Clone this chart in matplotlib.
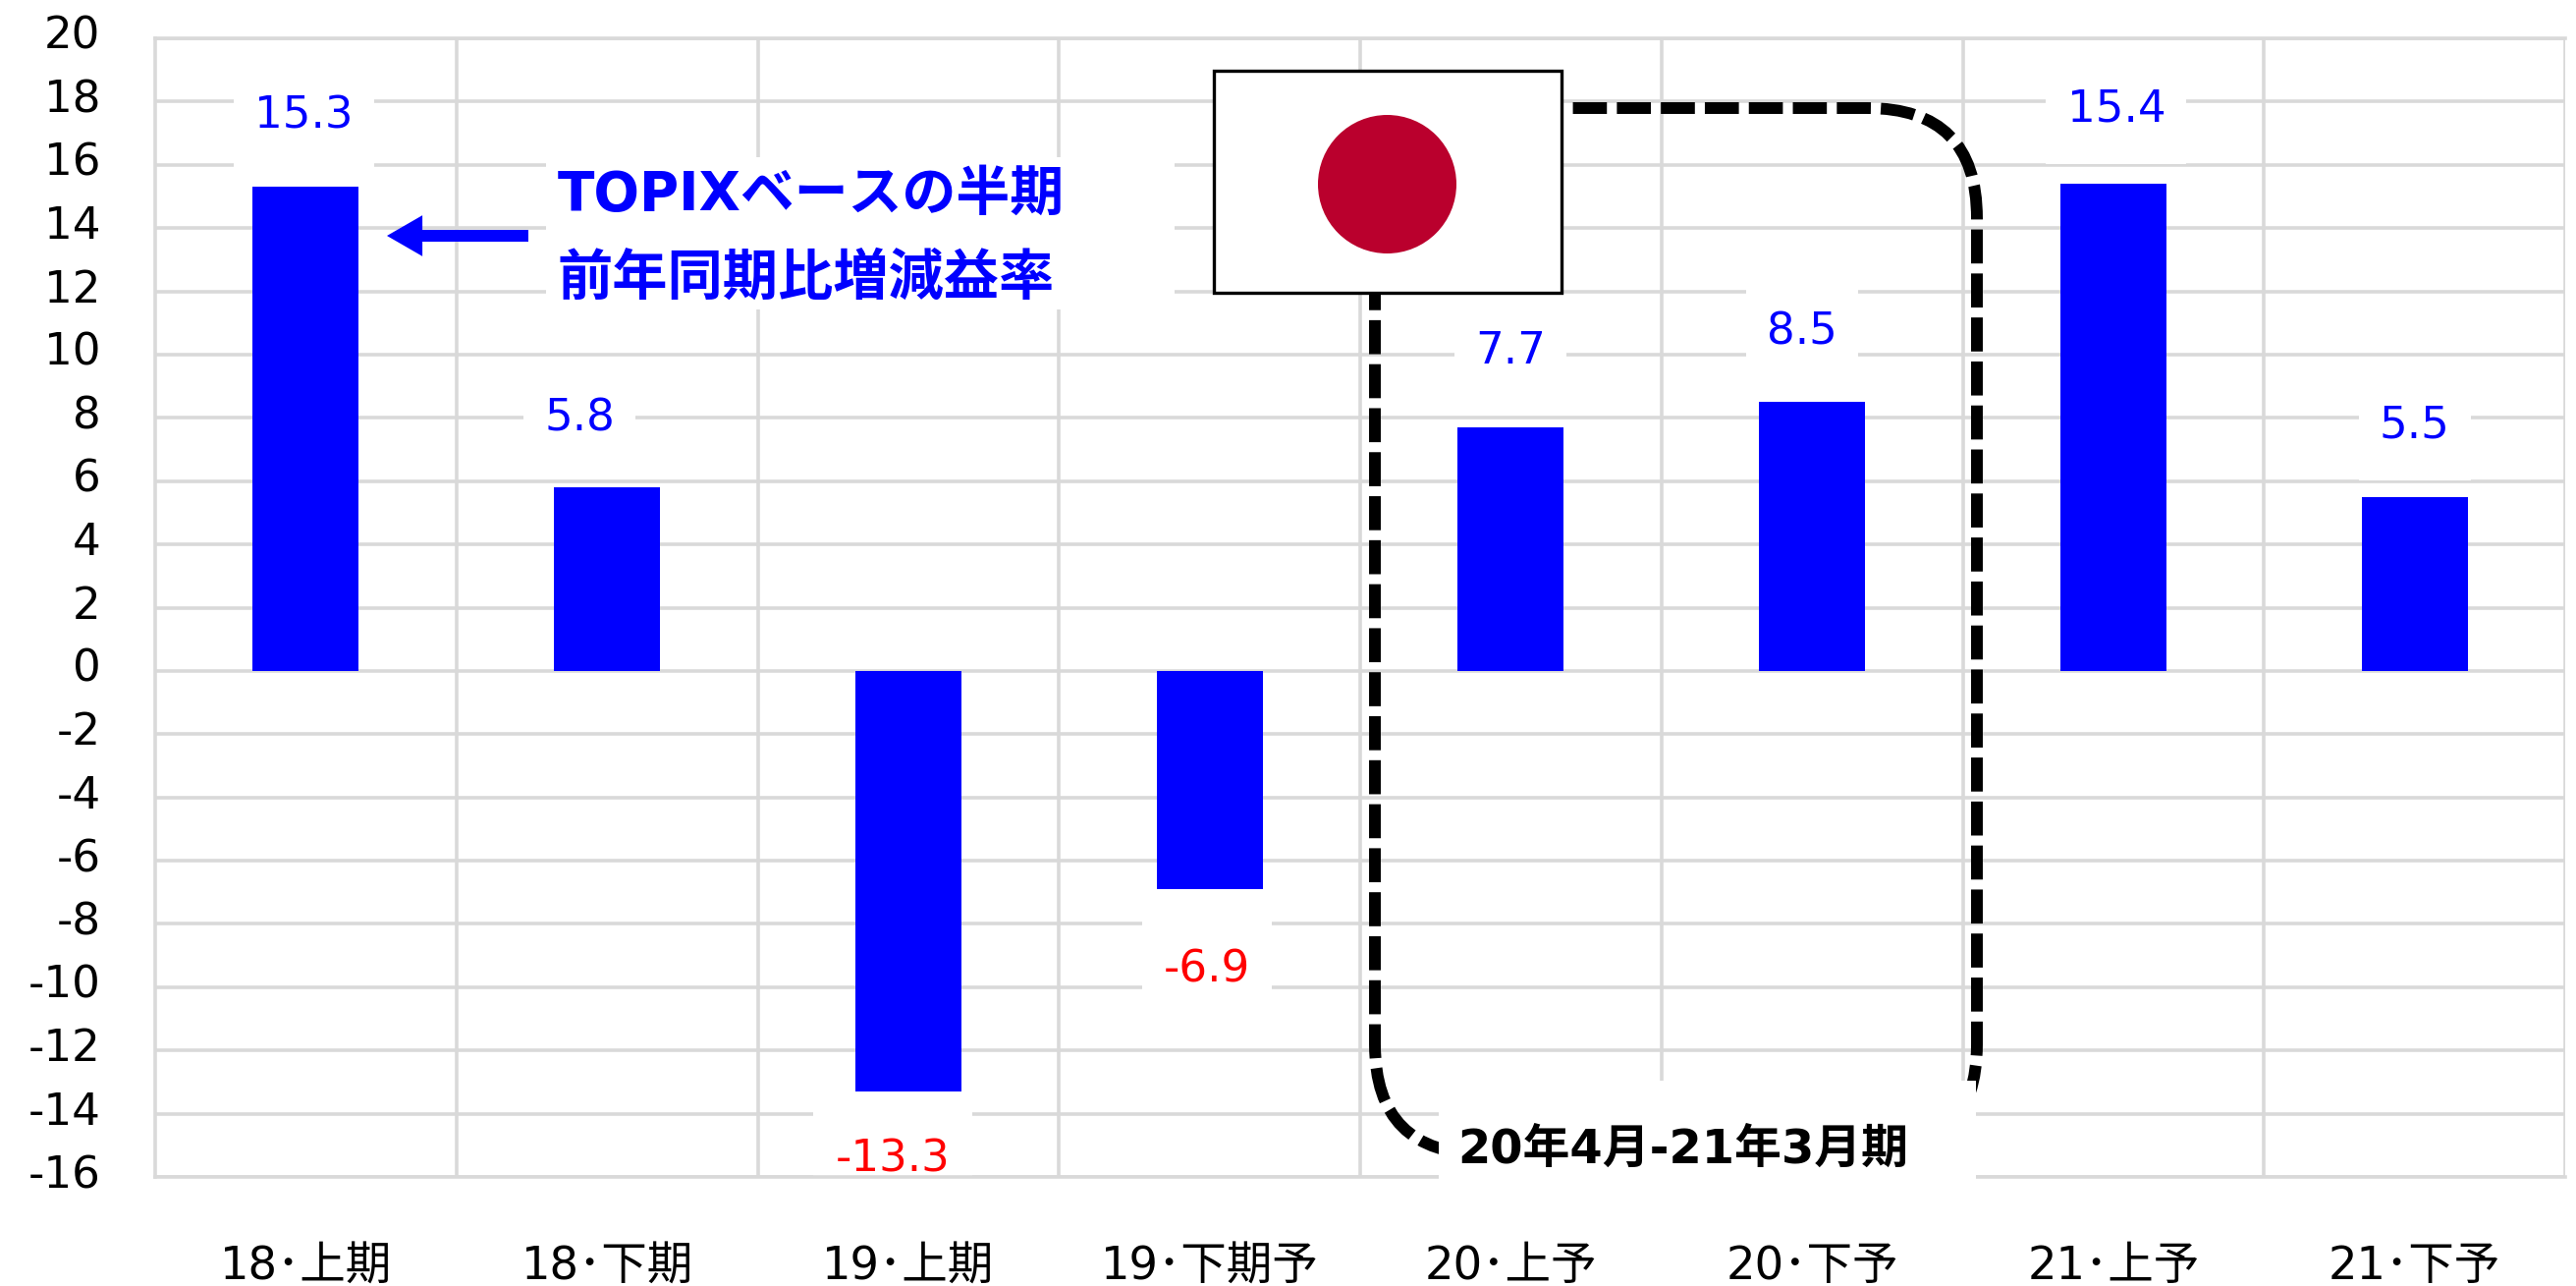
import matplotlib
matplotlib.use("Agg")
import matplotlib.pyplot as plt
from matplotlib.patches import Rectangle, Ellipse, FancyBboxPatch
from matplotlib.transforms import Affine2D

plt.rcParams['font.family'] = ['DejaVu Sans', 'Noto Sans CJK JP']
plt.rcParams['axes.unicode_minus'] = False

categories = ['18･上期', '18･下期', '19･上期', '19･下期予', '20･上予', '20･下予', '21･上予', '21･下予']
values = [15.3, 5.8, -13.3, -6.9, 7.7, 8.5, 15.4, 5.5]
y_ticks = list(range(-16, 21, 2))

# style only: placement of each value label relative to its bar end, in reference pixels
label_gaps = [72, 70, 69, 82, 77, 71, 76, 73]
label_shifts = [-2, -28, -16, -3, 0, -10, 3, 0]
W, H = 2623, 1309
L, R, T, B = 158, 2612, 39, 1198
GRID = '#D9D9D9'
BLUE = '#0000FF'
FS = 32.5

fig = plt.figure(figsize=(W / 100, H / 100), dpi=100, facecolor='white')
ax = fig.add_axes([L / W, 1 - B / H, (R - L) / W, (B - T) / H])
px = Affine2D().scale(1 / W, -1 / H).translate(0, 1) + fig.transFigure

ax.set_xlim(-0.5, 7.5)
ax.set_ylim(-16, 20)
ax.set_axisbelow(True)

ax.bar(range(len(values)), values, width=0.352, color=BLUE, zorder=3)

# gridlines
ax.set_yticks(y_ticks)
ax.set_xticks(range(len(categories)))
ax.set_xticklabels(categories, fontsize=FS)
ax.set_xticks([i + 0.5 for i in range(len(categories))], minor=True)
ax.grid(True, which='major', axis='y', color=GRID, lw=2.6, zorder=1)
ax.grid(True, which='minor', axis='x', color=GRID, lw=2.6, zorder=1)
ax.tick_params(axis='both', which='both', length=0)
ax.tick_params(axis='x', pad=50, labelsize=33.5)
ax.tick_params(axis='y', pad=40, labelsize=FS)
for s in ax.spines.values():
    s.set_color(GRID)
    s.set_linewidth(2.6)
ax.spines['right'].set_visible(False)
for lab in ax.get_yticklabels():
    lab.set_transform(lab.get_transform() + Affine2D().translate(0, 6))

# dashed rounded frame
ax.add_patch(FancyBboxPatch((1400, 110), 613, 1065, boxstyle='round,pad=0,rounding_size=112',
                            transform=px, fill=False, ec='black', lw=8.6,
                            linestyle=(0, (2.9, 0.85)), capstyle='butt', zorder=4, clip_on=False))

# value labels with white plates
unit = (B - T) / 36
slot = (R - L) / 8
for i, (v, g, d) in enumerate(zip(values, label_gaps, label_shifts)):
    text = f'{v:.1f}'
    sign = 1 if v >= 0 else -1
    yc = v + sign * g / unit
    xc = i + d / slot
    bw = {3: 114, 4: 143, 5: 162}[len(text)] / slot
    if text == '-6.9':
        bw = 132 / slot
    ax.add_patch(Rectangle((xc - bw / 2, yc - 56 / unit), bw, 112 / unit, fc='white', ec='none',
                           zorder=2, clip_on=False))
    ax.text(xc, yc, text, color=BLUE if v >= 0 else '#FF0000', fontsize=FS,
            ha='center', va='center', zorder=5)

# TOPIX note
ax.add_patch(Rectangle((556, 160), 640, 155, transform=px, fc='white', ec='none', zorder=2))
ax.text(568, 199, 'TOPIXベースの半期', transform=px, color=BLUE, fontsize=39.5, fontweight='bold',
        ha='left', va='center', zorder=5)
ax.text(568, 285, '前年同期比増減益率', transform=px, color=BLUE, fontsize=40.5, fontweight='bold',
        ha='left', va='center', zorder=5)
ax.add_patch(Rectangle((394 + 34, 234), 538 - 428, 12, transform=px, fc=BLUE, ec='none', zorder=5))
ax.annotate('', xy=(394, 240), xytext=(430, 240), xycoords=px, textcoords=px,
            arrowprops=dict(arrowstyle='-|>,head_length=1.3,head_width=0.75', color=BLUE, lw=0,
                            shrinkA=0, shrinkB=0, mutation_scale=20), zorder=5)

# period label
ax.add_patch(Rectangle((1465, 1100), 547, 125, transform=px, fc='white', ec='none', zorder=4.5, clip_on=False))
ax.text(1484, 1170, '20年4月-21年3月期', transform=px, color='black', fontsize=34.5, fontweight='bold',
        ha='left', va='center', zorder=5)

# flag
ax.add_patch(Rectangle((1236, 72), 354, 226, transform=px, fc='white', ec='black', lw=2.4, zorder=6))
ax.add_patch(Ellipse((1412.5, 187.5), 141, 141, transform=px, fc='#BA002D', ec='none', zorder=7))

fig.savefig('out.png', dpi=100)
